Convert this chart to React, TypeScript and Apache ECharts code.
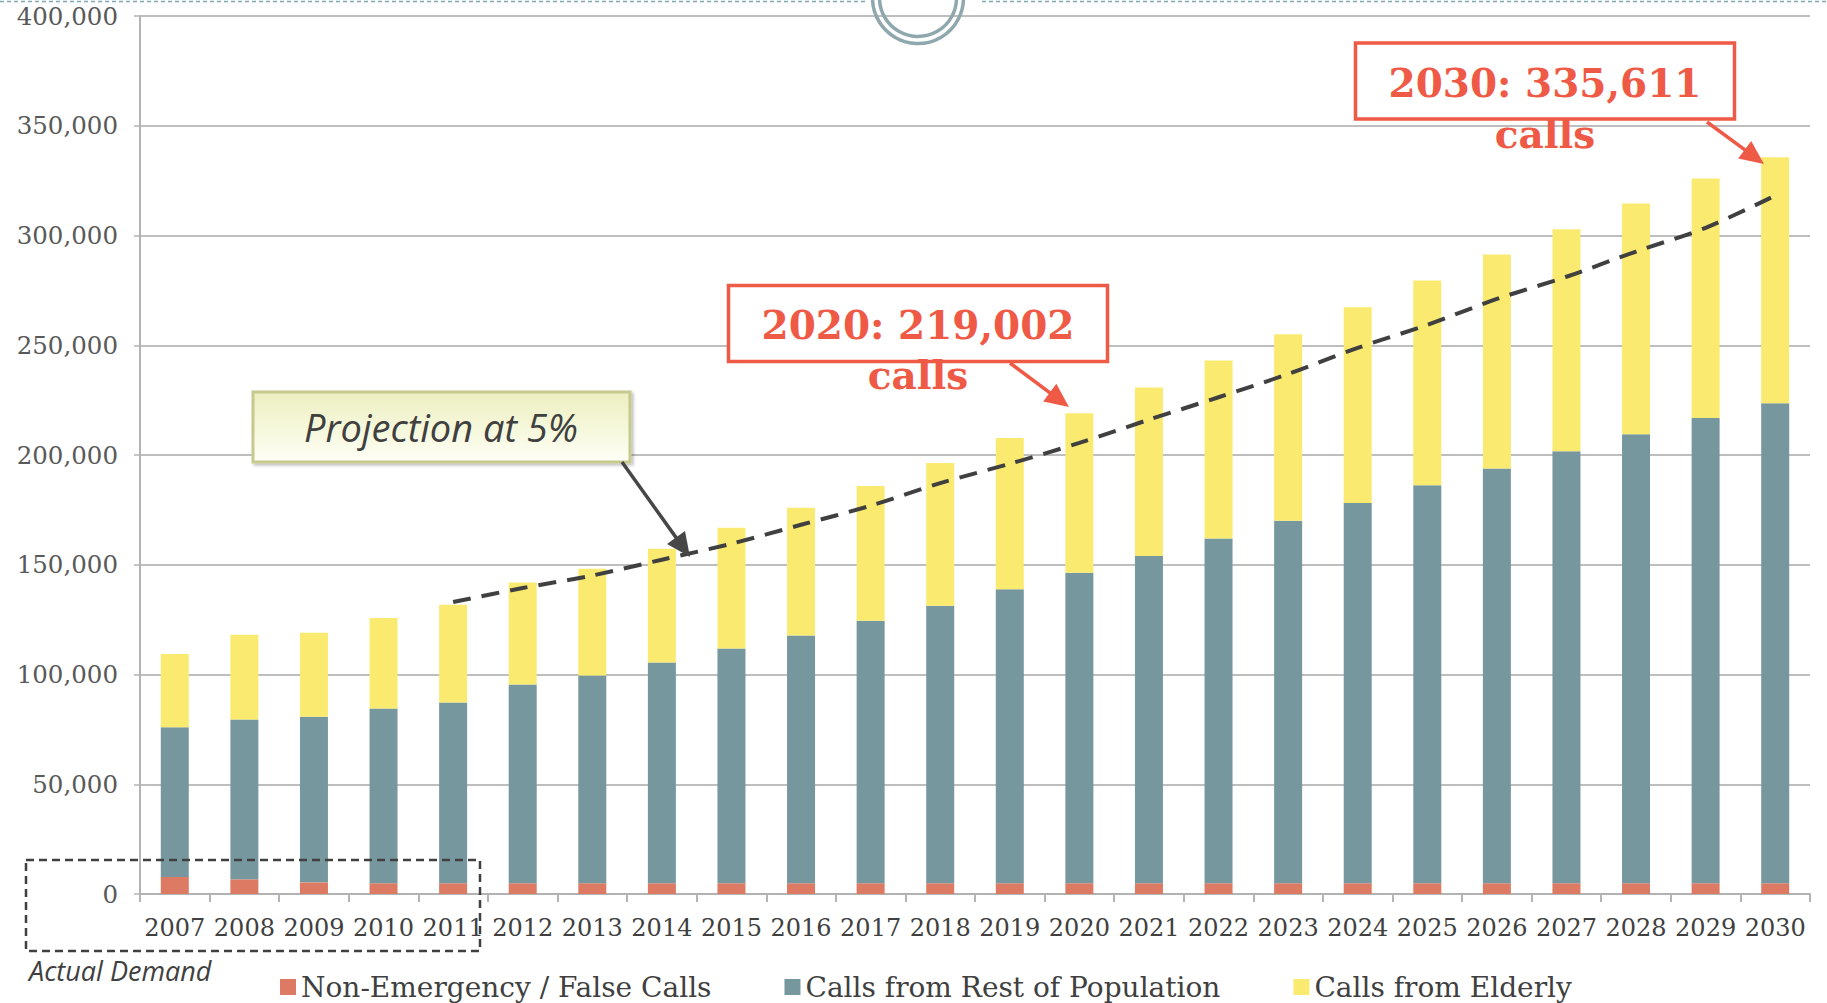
import React, { useEffect, useRef } from "react";
import * as echarts from "echarts";

const years = [
  "2007", "2008", "2009", "2010", "2011", "2012", "2013", "2014", "2015", "2016", "2017", "2018",
  "2019", "2020", "2021", "2022", "2023", "2024", "2025", "2026", "2027", "2028", "2029", "2030",
];

const nonEmergency = [
  7750, 6700, 5300, 4900, 4900, 4900, 4900, 4900, 4900, 4900, 4900, 4900,
  4900, 4900, 4900, 4900, 4900, 4900, 4900, 4900, 4900, 4900, 4900, 4900,
];

const restOfPopulation = [
  68200, 72800, 75500, 79600, 82300, 90500, 94600, 100600, 106900, 112900, 119600, 126400,
  133900, 141500, 149100, 157100, 165200, 173200, 181300, 189000, 196800, 204500, 212000, 218700,
];

const elderly = [
  33400, 38600, 38200, 41200, 44600, 46500, 48700, 51800, 55100, 58200, 61400, 65100,
  69000, 72600, 76700, 81000, 84900, 89200, 93300, 97400, 101200, 105200, 109100, 112000,
];

const projection = [
  null, null, null, null, 133000, 139400, 145100, 152300, 159600, 168200, 176900, 187200,
  196000, 205500, 216100, 226300, 236900, 248800, 259300, 271100, 281200, 292700, 303500, 318200,
];

const yTicks = { min: 0, max: 400000, interval: 50000 };

const seriesNames = ["Non-Emergency / False Calls", "Calls from Rest of Population", "Calls from Elderly"];

const RED = "#ef5a46";

function arrow(x1: number, y1: number, x2: number, y2: number, color: string, width: number, headLen: number, headHalf: number) {
  const dx = x2 - x1;
  const dy = y2 - y1;
  const len = Math.sqrt(dx * dx + dy * dy);
  const ux = dx / len;
  const uy = dy / len;
  const bx = x2 - headLen * ux;
  const by = y2 - headLen * uy;
  const nx = -uy;
  const ny = ux;
  return [
    {
      type: "line",
      z: 100,
      shape: { x1, y1, x2: bx + ux * 2, y2: by + uy * 2 },
      style: { stroke: color, lineWidth: width },
    },
    {
      type: "polygon",
      z: 100,
      shape: {
        points: [
          [x2, y2],
          [bx + headHalf * nx, by + headHalf * ny],
          [bx - headHalf * nx, by - headHalf * ny],
        ],
      },
      style: { fill: color },
    },
  ];
}

export default function App() {
  const ref = useRef<HTMLDivElement>(null);

  useEffect(() => {
    if (!ref.current) return;
    const chart = echarts.init(ref.current, null, { renderer: "svg" });

    const serifFont = "'DejaVu Serif', Georgia, serif";

    const graphics: any[] = [
      // top dashed decoration
      {
        type: "line",
        z: 50,
        shape: { x1: 0, y1: 1.5, x2: 868, y2: 1.5 },
        style: { stroke: "#7fa8b8", lineWidth: 1.5, lineDash: [4, 3] },
      },
      {
        type: "line",
        z: 50,
        shape: { x1: 982, y1: 1.5, x2: 1827, y2: 1.5 },
        style: { stroke: "#7fa8b8", lineWidth: 1.5, lineDash: [4, 3] },
      },
      {
        type: "circle",
        z: 50,
        shape: { cx: 918, cy: -2, r: 45.5 },
        style: { fill: "none", stroke: "#8ea8ae", lineWidth: 3.5 },
      },
      {
        type: "circle",
        z: 50,
        shape: { cx: 918, cy: -2, r: 38.5 },
        style: { fill: "none", stroke: "#8ea8ae", lineWidth: 3.5 },
      },
      // Projection box
      {
        type: "rect",
        z: 90,
        shape: { x: 253, y: 392, width: 377, height: 70 },
        style: {
          fill: new echarts.graphic.LinearGradient(0, 0, 0, 1, [
            { offset: 0, color: "#ecefbf" },
            { offset: 0.55, color: "#f6f8dd" },
            { offset: 1, color: "#fefef6" },
          ]),
          stroke: "#c6ca8f",
          lineWidth: 3,
          shadowBlur: 3,
          shadowColor: "rgba(0,0,0,0.25)",
          shadowOffsetX: 2,
          shadowOffsetY: 2,
        },
      },
      {
        type: "text",
        z: 95,
        x: 441,
        y: 427,
        style: {
          text: "Projection at 5%",
          fontFamily: "'Open Sans', sans-serif",
          fontStyle: "italic",
          fontSize: 38,
          fill: "#404040",
          align: "center",
          verticalAlign: "middle",
        },
      },
      ...arrow(622, 462, 690, 557, "#474747", 3.5, 24, 11),
      // 2020 callout
      {
        type: "rect",
        z: 90,
        shape: { x: 728.5, y: 285.5, width: 379, height: 76 },
        style: { fill: "#ffffff", stroke: RED, lineWidth: 3.5 },
      },
      {
        type: "text",
        z: 95,
        x: 918,
        y: 325,
        style: {
          text: "2020: 219,002",
          fontFamily: serifFont,
          fontWeight: "bold",
          fontSize: 39,
          fill: RED,
          align: "center",
          verticalAlign: "middle",
        },
      },
      {
        type: "text",
        z: 95,
        x: 918,
        y: 375,
        style: {
          text: "calls",
          fontFamily: serifFont,
          fontWeight: "bold",
          fontSize: 39,
          fill: RED,
          align: "center",
          verticalAlign: "middle",
        },
      },
      ...arrow(1010, 363, 1069, 407, RED, 3.5, 24, 11),
      // 2030 callout
      {
        type: "rect",
        z: 90,
        shape: { x: 1355.5, y: 43, width: 379, height: 76 },
        style: { fill: "#ffffff", stroke: RED, lineWidth: 3.5 },
      },
      {
        type: "text",
        z: 95,
        x: 1545,
        y: 83,
        style: {
          text: "2030: 335,611",
          fontFamily: serifFont,
          fontWeight: "bold",
          fontSize: 39,
          fill: RED,
          align: "center",
          verticalAlign: "middle",
        },
      },
      {
        type: "text",
        z: 95,
        x: 1545,
        y: 134,
        style: {
          text: "calls",
          fontFamily: serifFont,
          fontWeight: "bold",
          fontSize: 39,
          fill: RED,
          align: "center",
          verticalAlign: "middle",
        },
      },
      ...arrow(1707, 122, 1764, 164, RED, 3.5, 24, 11),
      // Actual demand box
      {
        type: "rect",
        z: 90,
        shape: { x: 26, y: 860, width: 454, height: 91 },
        style: { fill: "none", stroke: "#404040", lineWidth: 2.5, lineDash: [8, 5] },
      },
      {
        type: "text",
        z: 95,
        x: 29,
        y: 970,
        style: {
          text: "Actual Demand",
          fontFamily: "'Open Sans', sans-serif",
          fontStyle: "italic",
          fontSize: 27,
          fill: "#404040",
          align: "left",
          verticalAlign: "middle",
        },
      },
    ];

    const option: any = {
      animation: false,
      backgroundColor: "#ffffff",
      grid: { left: 140, right: 17, top: 16, bottom: 109, containLabel: false },
      legend: {
        data: seriesNames,
        left: 275,
        top: 968,
        itemGap: 73,
        itemWidth: 16,
        itemHeight: 16,
        icon: "rect",
        textStyle: { fontFamily: serifFont, fontSize: 28, color: "#404040" },
      },
      xAxis: {
        type: "category",
        data: years,
        axisLine: { lineStyle: { color: "#b3b3b3", width: 2 } },
        axisTick: { show: true, length: 8, lineStyle: { color: "#b3b3b3", width: 2 } },
        axisLabel: { fontFamily: serifFont, fontSize: 24, color: "#404040", margin: 22, interval: 0 },
      },
      yAxis: {
        type: "value",
        min: yTicks.min,
        max: yTicks.max,
        interval: yTicks.interval,
        axisLine: { show: true, lineStyle: { color: "#b3b3b3", width: 2 } },
        axisTick: { show: true, length: 6, lineStyle: { color: "#b3b3b3", width: 1.5 } },
        splitLine: { lineStyle: { color: "#a8a8a8", width: 1.5 } },
        axisLabel: {
          fontFamily: serifFont,
          fontSize: 24.5,
          color: "#595959",
          margin: 22,
          formatter: (v: number) => v.toLocaleString("en-US"),
        },
      },
      series: [
        {
          name: seriesNames[0],
          type: "bar",
          stack: "calls",
          barWidth: 28,
          data: nonEmergency,
          itemStyle: { color: "#dc7a63" },
        },
        {
          name: seriesNames[1],
          type: "bar",
          stack: "calls",
          barWidth: 28,
          data: restOfPopulation,
          itemStyle: { color: "#77979f" },
        },
        {
          name: seriesNames[2],
          type: "bar",
          stack: "calls",
          barWidth: 28,
          data: elderly,
          itemStyle: { color: "#faeb70" },
        },
        {
          name: "Projection",
          type: "line",
          data: projection,
          smooth: 0.3,
          symbol: "none",
          connectNulls: false,
          z: 5,
          lineStyle: { color: "#404040", width: 4, type: [18, 11] },
        },
      ],
      graphic: graphics,
    };

    chart.setOption(option);
    return () => chart.dispose();
  }, []);

  return (
    <div
      ref={ref}
      style={{ position: "absolute", left: 0, top: 0, width: 1827, height: 1003, background: "#ffffff" }}
    />
  );
}
